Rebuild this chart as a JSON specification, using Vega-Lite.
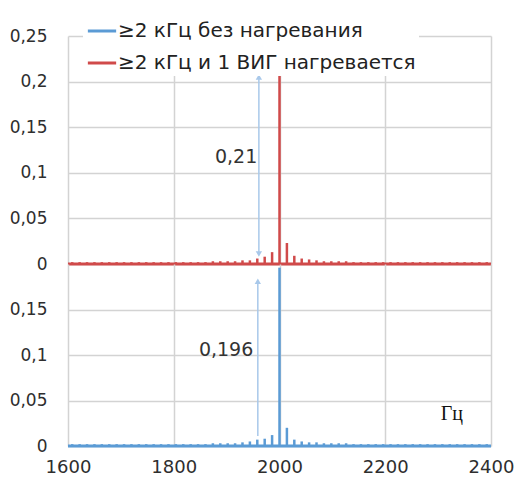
{
  "$schema": "https://vega.github.io/schema/vega-lite/v6.json",
  "autosize": {"type": "pad"},
  "padding": {"left": 9, "top": 12, "right": 5, "bottom": 5},
  "background": "white",
  "spacing": 0,
  "bounds": "flush",
  "datasets": {
    "spec": [
      {"f":1608,"r":0.002,"b":0.002},{"f":1622,"r":0.002,"b":0.002},{"f":1636,"r":0.002,"b":0.002},{"f":1650,"r":0.002,"b":0.002},
      {"f":1664,"r":0.002,"b":0.002},{"f":1678,"r":0.002,"b":0.002},{"f":1692,"r":0.002,"b":0.002},{"f":1706,"r":0.002,"b":0.002},
      {"f":1720,"r":0.002,"b":0.002},{"f":1734,"r":0.002,"b":0.002},{"f":1748,"r":0.002,"b":0.002},{"f":1762,"r":0.002,"b":0.002},
      {"f":1776,"r":0.002,"b":0.002},{"f":1790,"r":0.002,"b":0.002},{"f":1804,"r":0.002,"b":0.002},{"f":1818,"r":0.002,"b":0.002},
      {"f":1832,"r":0.002,"b":0.002},{"f":1846,"r":0.002,"b":0.002},{"f":1860,"r":0.002,"b":0.002},{"f":1874,"r":0.003,"b":0.003},
      {"f":1888,"r":0.003,"b":0.003},{"f":1902,"r":0.003,"b":0.003},{"f":1916,"r":0.003,"b":0.003},{"f":1930,"r":0.004,"b":0.004},
      {"f":1944,"r":0.004,"b":0.005},{"f":1958,"r":0.006,"b":0.007},{"f":1972,"r":0.008,"b":0.008},{"f":1986,"r":0.013,"b":0.012},
      {"f":2000,"r":0.21,"b":0.196},{"f":2014,"r":0.023,"b":0.02},{"f":2028,"r":0.009,"b":0.007},{"f":2042,"r":0.006,"b":0.005},
      {"f":2056,"r":0.005,"b":0.004},{"f":2070,"r":0.004,"b":0.004},{"f":2084,"r":0.003,"b":0.003},{"f":2098,"r":0.003,"b":0.003},
      {"f":2112,"r":0.003,"b":0.003},{"f":2126,"r":0.003,"b":0.003},{"f":2140,"r":0.002,"b":0.002},{"f":2154,"r":0.002,"b":0.002},
      {"f":2168,"r":0.002,"b":0.002},{"f":2182,"r":0.002,"b":0.002},{"f":2196,"r":0.002,"b":0.002},{"f":2210,"r":0.002,"b":0.002},
      {"f":2224,"r":0.002,"b":0.002},{"f":2238,"r":0.002,"b":0.002},{"f":2252,"r":0.002,"b":0.002},{"f":2266,"r":0.002,"b":0.002},
      {"f":2280,"r":0.002,"b":0.002},{"f":2294,"r":0.002,"b":0.002},{"f":2308,"r":0.002,"b":0.002},{"f":2322,"r":0.002,"b":0.002},
      {"f":2336,"r":0.002,"b":0.002},{"f":2350,"r":0.002,"b":0.002},{"f":2364,"r":0.002,"b":0.002},{"f":2378,"r":0.002,"b":0.002},
      {"f":2392,"r":0.002,"b":0.002}
    ],
    "zero": [{"z": 0}],
    "arrowTop": [{"f":1961,"y1":0.011,"y2":0.205}],
    "arrowBottom": [{"f":1959,"y1":0.011,"y2":0.181}],
    "labelTop": [{"f":1918,"y":0.117,"t":"0,21"}],
    "labelBottom": [{"f":1899,"y":0.105,"t":"0,196"}],
    "unit": [{"f":2326,"y":0.035,"t":"Гц"}]
  },
  "config": {
    "locale": {"number": {"decimal": ",", "thousands": "", "grouping": [3], "currency": ["", ""]}},
    "view": {"stroke": null},
    "axis": {"gridColor": "#d3d3d3", "gridWidth": 1.5, "domain": false, "ticks": false, "labelFont": "DejaVu Sans", "labelColor": "#2e2e2e", "title": null, "labelFlush": false},
    "legend": {"orient": "none", "legendX": 15, "legendY": -24, "direction": "vertical", "title": null, "symbolType": "stroke", "symbolSize": 800, "symbolStrokeWidth": 3, "labelFontSize": 20, "labelFont": "DejaVu Sans", "labelColor": "#222222", "rowPadding": 6, "fillColor": "white", "padding": 3, "labelOffset": 0, "labelLimit": 400}
  },
  "resolve": {"scale": {"color": "shared"}, "legend": {"color": "shared"}},
  "vconcat": [
    {
      "width": 423,
      "height": 228,
      "layer": [
        {
          "data": {"name": "spec"},
          "mark": {"type": "rule", "strokeWidth": 2.5},
          "encoding": {
            "x": {"field": "f", "type": "quantitative", "scale": {"domain": [1600, 2400], "nice": false, "zero": false}, "axis": {"values": [1600, 1800, 2000, 2200, 2400], "labels": false, "minExtent": 0, "maxExtent": 0}},
            "y": {"field": "r", "type": "quantitative", "scale": {"domain": [0, 0.25], "nice": false}, "axis": {"values": [0, 0.05, 0.1, 0.15, 0.2, 0.25], "format": "~g", "labelFontSize": 17, "labelPadding": 21}},
            "y2": {"datum": 0},
            "color": {"datum": "≥2 кГц и 1 ВИГ нагревается", "type": "nominal", "scale": {"domain": ["≥2 кГц без нагревания", "≥2 кГц и 1 ВИГ нагревается"], "range": ["#5b9bd5", "#d04a4a"]}}
          }
        },
        {
          "data": {"name": "zero"},
          "mark": {"type": "rule", "strokeWidth": 3, "color": "#d04a4a"},
          "encoding": {"y": {"field": "z", "type": "quantitative"}}
        },
        {
          "data": {"name": "arrowTop"},
          "mark": {"type": "rule", "strokeWidth": 1.5, "color": "#a8c8ea"},
          "encoding": {"x": {"field": "f", "type": "quantitative"}, "y": {"field": "y1", "type": "quantitative"}, "y2": {"field": "y2"}}
        },
        {
          "data": {"name": "arrowTop"},
          "mark": {"type": "point", "shape": "triangle-up", "filled": true, "size": 40, "color": "#a8c8ea", "opacity": 1},
          "encoding": {"x": {"field": "f", "type": "quantitative"}, "y": {"field": "y2", "type": "quantitative"}}
        },
        {
          "data": {"name": "arrowTop"},
          "mark": {"type": "point", "shape": "triangle-down", "filled": true, "size": 40, "color": "#a8c8ea", "opacity": 1},
          "encoding": {"x": {"field": "f", "type": "quantitative"}, "y": {"field": "y1", "type": "quantitative"}}
        },
        {
          "data": {"name": "labelTop"},
          "mark": {"type": "text", "fontSize": 19, "font": "DejaVu Sans", "color": "#333333"},
          "encoding": {"x": {"field": "f", "type": "quantitative"}, "y": {"field": "y", "type": "quantitative"}, "text": {"field": "t"}}
        }
      ]
    },
    {
      "width": 423,
      "height": 182,
      "layer": [
        {
          "data": {"name": "spec"},
          "mark": {"type": "rule", "strokeWidth": 2.5},
          "encoding": {
            "x": {"field": "f", "type": "quantitative", "scale": {"domain": [1600, 2400], "nice": false, "zero": false}, "axis": {"values": [1600, 1800, 2000, 2200, 2400], "format": "d", "labelFontSize": 18, "labelPadding": 12}},
            "y": {"field": "b", "type": "quantitative", "scale": {"domain": [0, 0.2], "nice": false}, "axis": {"values": [0, 0.05, 0.1, 0.15], "format": "~g", "labelFontSize": 17, "labelPadding": 21}},
            "y2": {"datum": 0},
            "color": {"datum": "≥2 кГц без нагревания", "type": "nominal"}
          }
        },
        {
          "data": {"name": "zero"},
          "mark": {"type": "rule", "strokeWidth": 3, "color": "#5b9bd5"},
          "encoding": {"y": {"field": "z", "type": "quantitative"}}
        },
        {
          "data": {"name": "arrowBottom"},
          "mark": {"type": "rule", "strokeWidth": 1.5, "color": "#a8c8ea"},
          "encoding": {"x": {"field": "f", "type": "quantitative"}, "y": {"field": "y1", "type": "quantitative"}, "y2": {"field": "y2"}}
        },
        {
          "data": {"name": "arrowBottom"},
          "mark": {"type": "point", "shape": "triangle-up", "filled": true, "size": 40, "color": "#a8c8ea", "opacity": 1},
          "encoding": {"x": {"field": "f", "type": "quantitative"}, "y": {"field": "y2", "type": "quantitative"}}
        },
        {
          "data": {"name": "labelBottom"},
          "mark": {"type": "text", "fontSize": 19, "font": "DejaVu Sans", "color": "#333333"},
          "encoding": {"x": {"field": "f", "type": "quantitative"}, "y": {"field": "y", "type": "quantitative"}, "text": {"field": "t"}}
        },
        {
          "data": {"name": "unit"},
          "mark": {"type": "text", "fontSize": 20, "font": "Liberation Serif", "color": "#111111"},
          "encoding": {"x": {"field": "f", "type": "quantitative"}, "y": {"field": "y", "type": "quantitative"}, "text": {"field": "t"}}
        }
      ]
    }
  ]
}
